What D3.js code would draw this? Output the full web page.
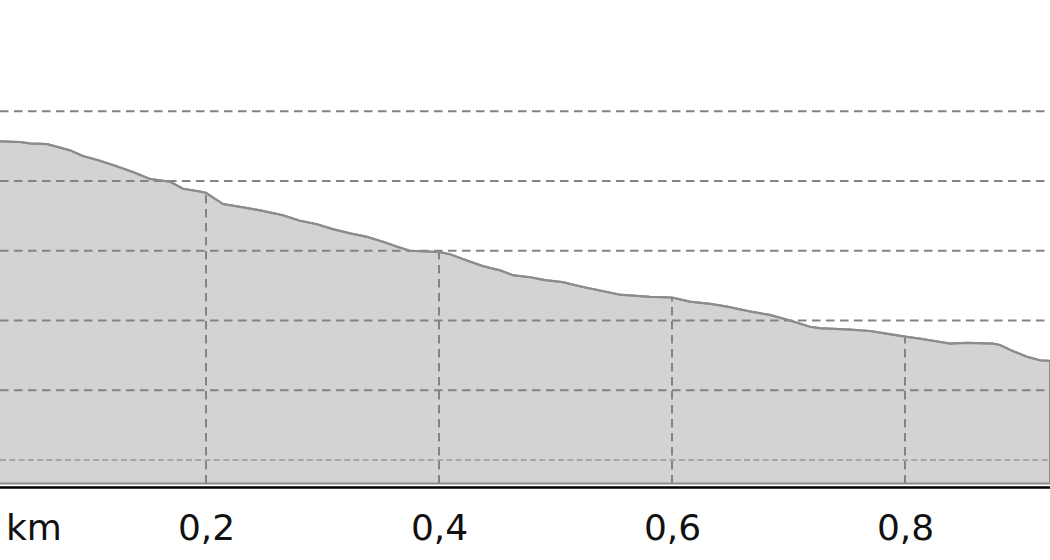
<!doctype html>
<html>

<head>
    <script src="https://cdnjs.cloudflare.com/ajax/libs/d3/7.8.5/d3.min.js" type="text/JavaScript"></script>
    <style>
        body {
            margin: 0;
            background: #fff;
        }

        text {
            font-family: "DejaVu Sans", sans-serif;
        }
    </style>
</head>

<body>
    <div id="viz"></div>
    <script>
        // distance along the track (km) and elevation (m)
        var distanceKm = [0, 0.0232, 0.0403, 0.0489, 0.0635, 0.0747, 0.0833, 0.0944, 0.1090, 0.1236, 0.1373,
            0.1519, 0.1691, 0.1803, 0.1948, 0.2000, 0.2146, 0.2292, 0.2464, 0.2661, 0.2807, 0.2953, 0.3090,
            0.3236, 0.3382, 0.3519, 0.3639, 0.3751, 0.3897, 0.4009, 0.4094, 0.4240, 0.4378, 0.4524, 0.4635,
            0.4781, 0.4910, 0.5064, 0.5236, 0.5382, 0.5554, 0.5811, 0.6000, 0.6155, 0.6326, 0.6472, 0.6670,
            0.6841, 0.7013, 0.7185, 0.7270, 0.7528, 0.7700, 0.7811, 0.8000, 0.8129, 0.8240, 0.8386, 0.8532,
            0.8755, 0.8815, 0.8901, 0.9047, 0.9159, 0.9245];
        var elevationM = [275.7, 275.7, 275.6, 275.4, 275.3, 274.8, 274.4, 273.6, 272.9, 272.1, 271.3,
            270.3, 269.9, 268.9, 268.5, 268.3, 266.7, 266.3, 265.8, 265.1, 264.3, 263.8, 263.1,
            262.5, 262.0, 261.3, 260.6, 260.0, 259.9, 259.8, 259.5, 258.6, 257.8, 257.2, 256.5,
            256.2, 255.8, 255.5, 254.8, 254.3, 253.7, 253.4, 253.3, 252.7, 252.4, 252.0, 251.3,
            250.8, 250.0, 249.1, 248.9, 248.7, 248.5, 248.2, 247.7, 247.4, 247.1, 246.7, 246.8,
            246.7, 246.5, 245.8, 244.8, 244.3, 244.2];
        var xTicks = [0.2, 0.4, 0.6, 0.8];
        var yTicks = [230, 240, 250, 260, 270, 280];
        var unitLabel = "km";

        var width = 1050,
            height = 560,
            plotBottom = 483.5,
            axisY = 487;

        var data = distanceKm.map((d, i) => { return { km: d, ele: elevationM[i] } });

        var svg = d3.select("#viz")
            .append("svg")
            .attr("width", width)
            .attr("height", height);

        // the profile is a crop: km 0 sits just left of the picture
        var x = d3.scaleLinear()
            .domain([0, 1])
            .range([-27, 1138]);

        var y = d3.scaleLinear()
            .domain([230, 280])
            .range([460, 111.3]);

        var area = d3.area()
            .x(d => x(d.km))
            .y0(plotBottom)
            .y1(d => y(d.ele));

        var line = d3.line()
            .x(d => x(d.km))
            .y(d => y(d.ele));

        svg.append("clipPath")
            .attr("id", "underProfile")
            .append("path")
            .attr("d", area(data));

        // filled profile
        svg.append("path")
            .attr("d", area(data))
            .attr("fill", "#d3d3d3")
            .attr("stroke", "#8c8c8c")
            .attr("stroke-width", 2);

        // horizontal grid
        svg.append("g").selectAll("line")
            .data(yTicks)
            .enter()
            .append("line")
            .attr("x1", 0)
            .attr("x2", width)
            .attr("y1", d => y(d))
            .attr("y2", d => y(d))
            .attr("stroke", (d, i) => i == 0 ? "#999" : "#838383")
            .attr("stroke-width", (d, i) => i == 0 ? 1.3 : 2)
            .attr("stroke-dasharray", (d, i) => i == 0 ? "6,3.3" : "8.5,5.5");

        // vertical grid, only under the curve
        svg.append("g")
            .attr("clip-path", "url(#underProfile)")
            .selectAll("line")
            .data(xTicks)
            .enter()
            .append("line")
            .attr("x1", d => x(d))
            .attr("x2", d => x(d))
            .attr("y1", plotBottom)
            .attr("y2", 0)
            .attr("stroke", "#838383")
            .attr("stroke-width", 2)
            .attr("stroke-dasharray", "8.5,5.5");

        // profile line on top
        svg.append("path")
            .attr("d", line(data))
            .attr("fill", "none")
            .attr("stroke", "#8c8c8c")
            .attr("stroke-width", 2.2);

        // bottom axis
        var axis = svg.append("g")
            .attr("transform", "translate(0," + axisY + ")")
            .call(d3.axisBottom(x)
                .tickValues(xTicks)
                .tickSize(0)
                .tickPadding(27)
                .tickFormat(d => d3.format(".1f")(d).replace(".", ",")));

        axis.select(".domain")
            .attr("stroke", "#000")
            .attr("stroke-width", 2.5);

        axis.selectAll("text")
            .attr("font-family", "DejaVu Sans")
            .attr("font-size", 36)
            .attr("fill", "#111");

        svg.append("text")
            .attr("x", 6)
            .attr("y", 540)
            .attr("font-size", 36)
            .attr("fill", "#111")
            .text(unitLabel);
    </script>
</body>

</html>
